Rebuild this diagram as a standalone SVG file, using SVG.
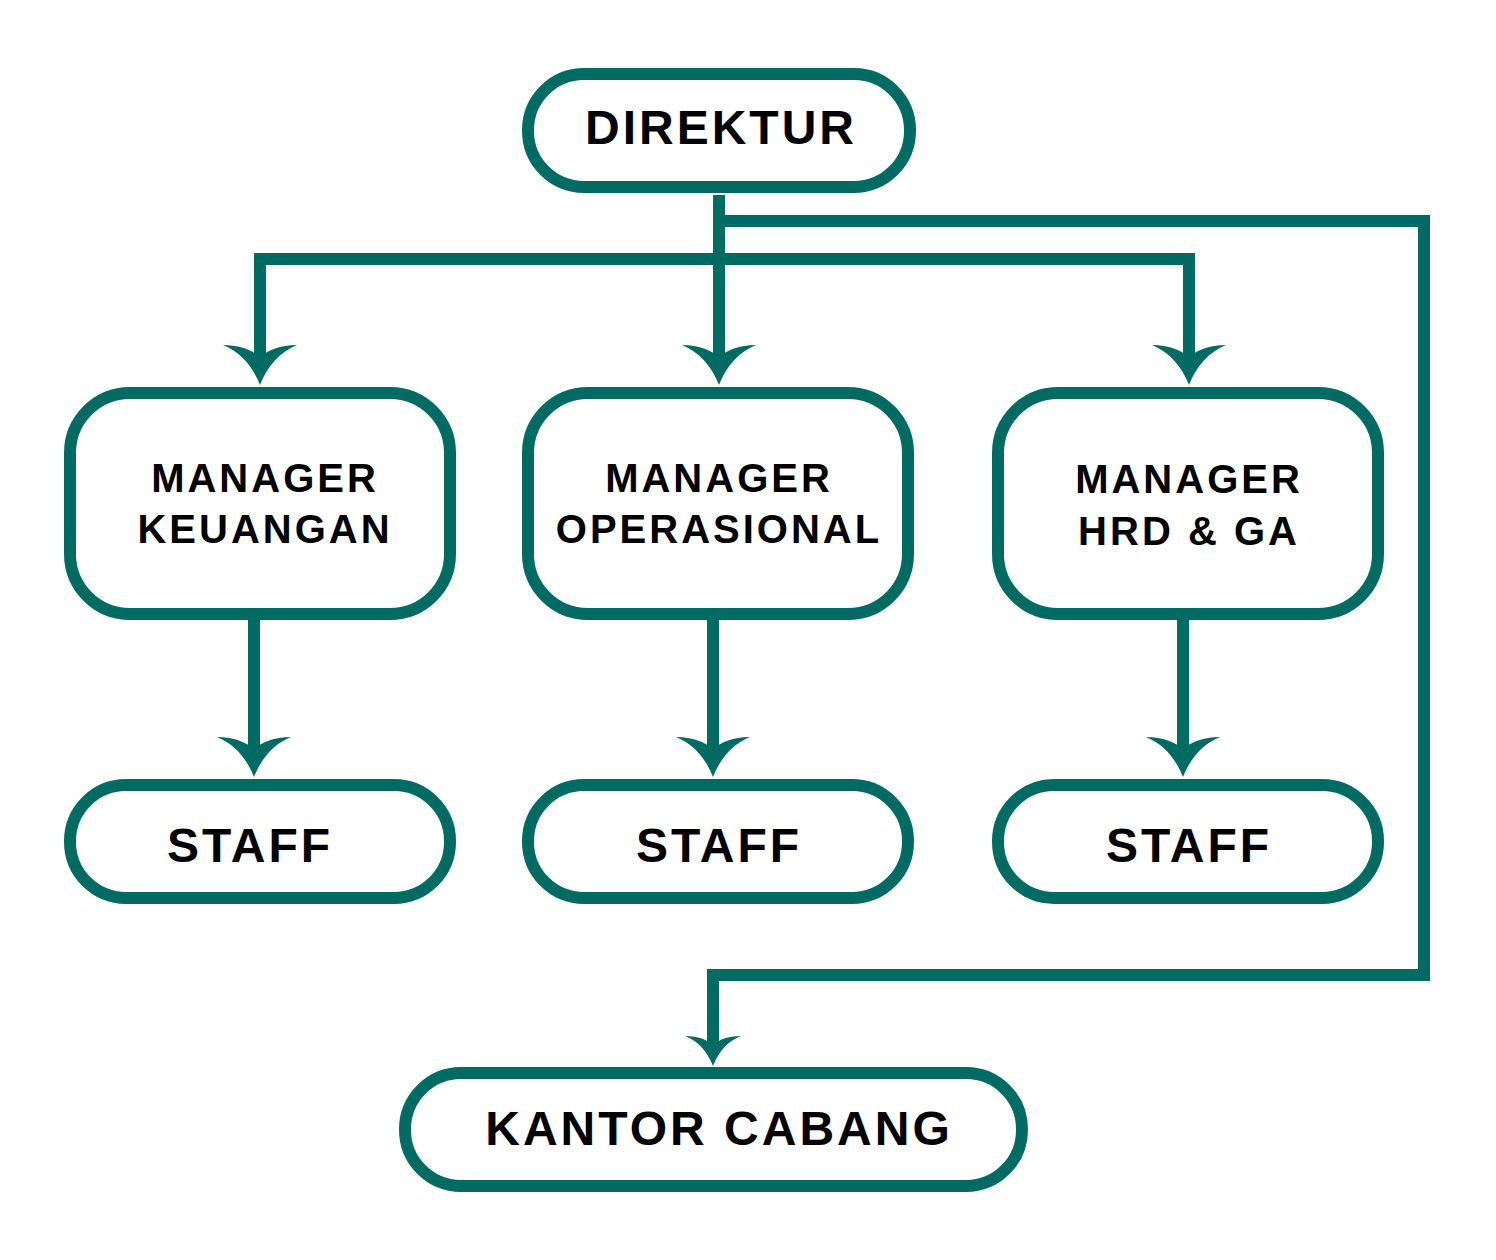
<svg xmlns="http://www.w3.org/2000/svg" width="1496" height="1260" viewBox="0 0 1496 1260">
<style>
.box{fill:#fff;stroke:#006b63;stroke-width:12}
.ln{fill:none;stroke:#006b63;stroke-width:12}
.hd{fill:#006b63}
text{font-family:"Liberation Sans",Arial,sans-serif;font-weight:bold;fill:#000;text-anchor:middle;letter-spacing:3px}
.big{font-size:48px}
.mid{font-size:40px}
</style>
<defs>
<path id="ah" d="M0,0 C-8,-20 -20,-33 -37,-40 C-20,-40 -8,-35 0,-28 C8,-35 20,-40 37,-40 C20,-33 8,-20 0,0Z"/>
</defs>
<rect width="1496" height="1260" fill="#fff"/>
<g id="connectors">
<path class="ln" d="M719,195 V360 M719,221 H1424 V975 H713 V1045 M260,365 V259 H1189 V365 M254,614 V755 M713,614 V755 M1183,614 V755"/>
<use href="#ah" class="hd" x="260" y="385"/>
<use href="#ah" class="hd" x="719" y="385"/>
<use href="#ah" class="hd" x="1189" y="385"/>
<use href="#ah" class="hd" x="254" y="777"/>
<use href="#ah" class="hd" x="713" y="777"/>
<use href="#ah" class="hd" x="1183" y="777"/>
<use href="#ah" class="hd" x="713" y="1066" transform="translate(713 1066) scale(0.75) translate(-713 -1066)"/>
</g>
<g id="direktur"><rect class="box" x="528" y="74" width="382" height="113" rx="56"/><text class="big" x="721" y="144">DIREKTUR</text></g>
<g id="mgr-keuangan"><rect class="box" x="70" y="393" width="380" height="221" rx="60"/><text class="mid" x="265" y="492">MANAGER</text><text class="mid" x="265" y="543">KEUANGAN</text></g>
<g id="mgr-operasional"><rect class="box" x="528" y="393" width="380" height="221" rx="60"/><text class="mid" x="719" y="492">MANAGER</text><text class="mid" x="719" y="543">OPERASIONAL</text></g>
<g id="mgr-hrd"><rect class="box" x="998" y="393" width="380" height="221" rx="60"/><text class="mid" x="1189" y="493">MANAGER</text><text class="mid" x="1189" y="545">HRD &amp; GA</text></g>
<g id="staff1"><rect class="box" x="70" y="785" width="380" height="113" rx="56"/><text class="big" x="250" y="862">STAFF</text></g>
<g id="staff2"><rect class="box" x="528" y="785" width="380" height="113" rx="56"/><text class="big" x="719" y="862">STAFF</text></g>
<g id="staff3"><rect class="box" x="998" y="785" width="380" height="113" rx="56"/><text class="big" x="1189" y="862">STAFF</text></g>
<g id="kantor"><rect class="box" x="405" y="1073" width="617" height="113" rx="56"/><text class="big" x="719" y="1145">KANTOR CABANG</text></g>
</svg>
